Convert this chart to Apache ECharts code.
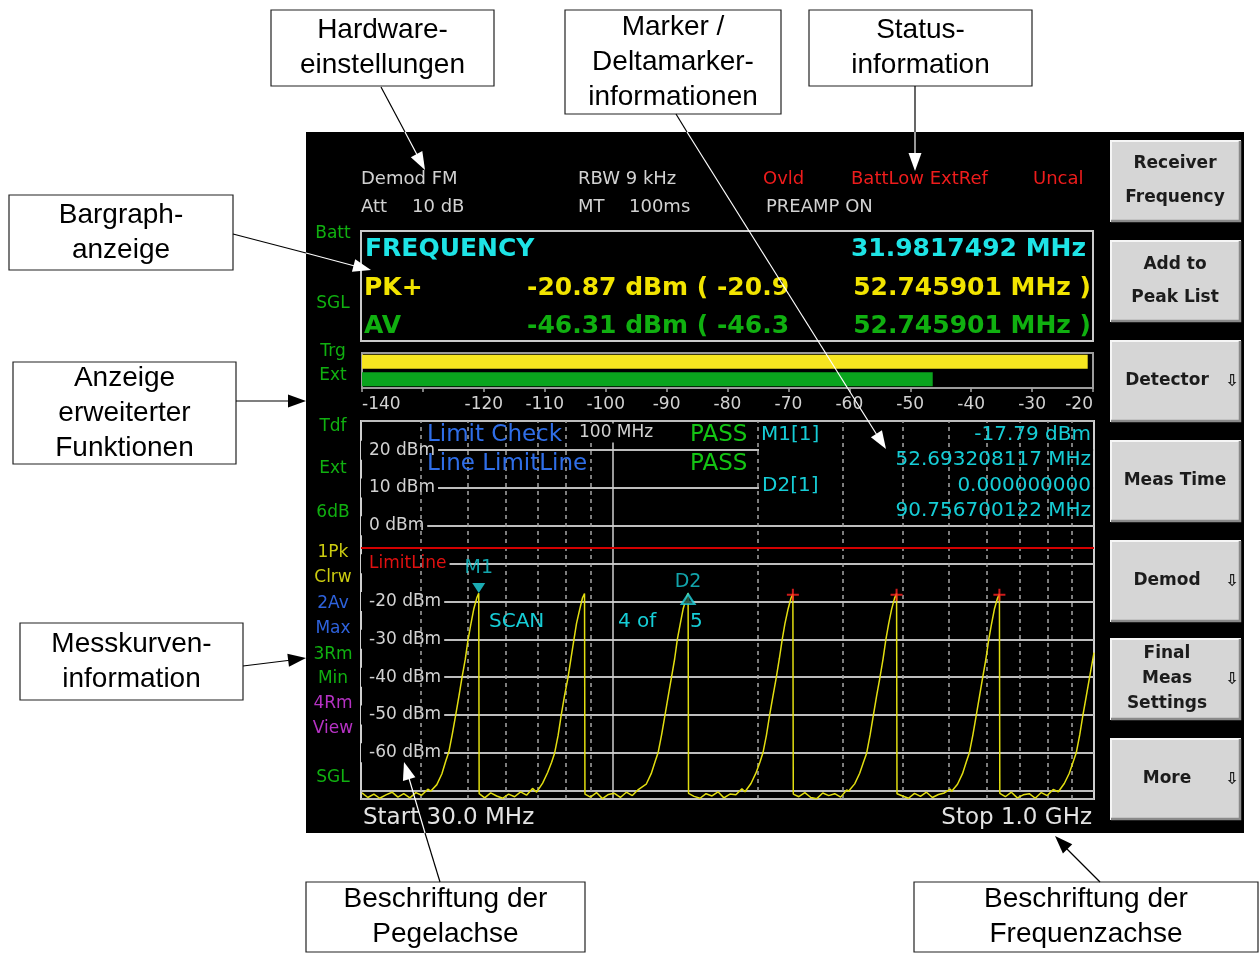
<!DOCTYPE html>
<html>
<head>
<meta charset="utf-8">
<title>Receiver Anzeige</title>
<script src="https://cdn.jsdelivr.net/npm/echarts@6.0.0/dist/echarts.min.js"></script>
<style>
html, body { margin: 0; padding: 0; background: #fff; }
#main { width: 1260px; height: 955px; }
</style>
</head>
<body>
<div id="main"></div>
<script>
// spectrum trace, frequency in MHz (log axis) and level in dBm
var traceFreq = [
  30.14, 31.0, 31.9, 32.8, 33.8, 34.8, 35.8, 36.8, 37.9, 39.0, 40.1, 41.3,
  41.91, 43.12, 44.16, 45.02, 45.66, 46.44, 47.15, 47.90, 48.65, 49.40, 50.07, 50.71, 51.45, 52.19, 52.69,
  52.80, 54.22, 55.79, 57.41, 59.08, 60.79, 62.55, 64.37, 66.23, 68.15,
  69.52, 71.53, 73.26, 74.67, 75.74, 77.03, 78.21, 79.45, 80.71, 81.95, 83.05, 84.12, 85.34, 86.57, 87.40,
  87.58, 89.93, 92.55, 95.23, 97.99, 100.83, 103.75, 106.77, 109.86, 113.04,
  114.10, 117.40, 120.24, 122.56, 124.31, 126.42, 128.36, 130.41, 132.46, 134.50, 136.31, 138.07, 140.06, 142.09, 143.45,
  143.74, 147.61, 151.90, 156.30, 160.84, 165.50, 170.29, 175.24, 180.32, 185.54,
  188.35, 193.80, 198.49, 202.32, 205.21, 208.69, 211.89, 215.27, 218.66, 222.02, 225.01, 227.92, 231.21, 234.55, 236.80,
  237.27, 243.67, 250.75, 258.02, 265.50, 273.20, 281.11, 289.27, 297.66, 306.28,
  309.33, 318.28, 325.98, 332.28, 337.02, 342.74, 347.99, 353.55, 359.11, 364.63, 369.53, 374.32, 379.72, 385.21, 388.90,
  389.68, 400.18, 411.81, 423.75, 436.03, 448.67, 461.66, 475.08, 488.85, 503.00,
  505.87, 520.50, 533.10, 543.40, 551.16, 560.51, 569.09, 578.19, 587.28, 596.31, 604.33, 612.15, 620.99, 629.96, 636.00,
  637.27, 654.44, 673.46, 692.99, 713.08, 733.75, 754.99, 776.94, 799.45, 822.60,
  843.1, 867.5, 888.5, 905.7, 918.6, 934.2, 948.5, 963.6, 978.8, 1000
];
var traceLevel = [
  -70.6, -71.8, -70.9, -72.0, -71.1, -70.4, -71.7, -70.8, -71.9, -70.5, -71.2, -69.6,
  -70.1, -68.4, -65.6, -62.1, -59.8, -55.0, -50.3, -45.2, -40.0, -35.3, -30.1, -26.2, -22.0, -19.1, -17.8,
  -70.8, -71.9, -70.6, -71.4, -72.0, -70.9, -71.6, -70.3, -71.2, -69.4,
  -70.4, -68.0, -65.2, -62.5, -60.1, -55.4, -49.9, -44.8, -40.3, -34.9, -30.2, -25.8, -22.3, -19.0, -17.9,
  -70.9, -71.7, -70.5, -72.1, -71.0, -70.7, -71.8, -70.4, -71.3, -69.7,
  -70.2, -68.3, -65.5, -62.2, -59.9, -55.1, -50.2, -45.1, -40.1, -35.2, -29.9, -26.1, -22.0, -19.3, -17.8,
  -70.7, -71.5, -72.0, -70.8, -71.4, -70.3, -71.9, -70.9, -71.1, -69.5,
  -70.3, -68.1, -65.3, -62.4, -60.0, -55.3, -50.0, -45.0, -40.2, -35.0, -30.1, -25.9, -22.2, -19.2, -18.0,
  -70.9, -71.6, -70.5, -71.8, -72.1, -70.6, -71.3, -70.8, -71.7, -69.8,
  -70.1, -68.2, -65.4, -62.3, -60.1, -55.2, -50.1, -44.9, -40.1, -35.1, -30.0, -26.0, -22.1, -19.1, -17.9,
  -70.8, -71.4, -72.0, -70.7, -71.5, -70.4, -71.8, -71.0, -70.6, -69.6,
  -70.2, -68.3, -65.5, -62.2, -59.9, -55.1, -50.2, -45.1, -40.0, -35.2, -30.1, -26.1, -22.0, -19.2, -18.0,
  -70.7, -71.6, -70.4, -71.9, -71.1, -70.8, -72.0, -70.5, -71.3, -69.7,
  -70.3, -68.1, -65.4, -62.3, -60.0, -55.2, -50.0, -45.1, -40.1, -33.5
];

var markerNames = ['M1', 'D2'];
var markerFreq = [52.69, 143.45];
var markerLevel = [-17.79, -17.8];
var peakFreq = [236.8, 388.9, 636.0];
var peakLevel = [-18.2, -18.2, -18.2];

var gridFreq = [40, 50, 60, 70, 80, 90, 200, 300, 400, 500, 600, 700, 800, 900];
var decadeFreq = [100];
var limitLevel = -5.8;
var levelMin = -72.2, levelMax = 27.7;
var freqStart = 30, freqStop = 1000;

// bargraph
var barNames = ['PK+', 'AV'];
var barValues = [-20.87, -46.31];
var barMin = -140, barMax = -20;

var INST = 'DejaVu Sans';
var ANNO = 'Liberation Sans';
var CYAN = '#1ee4e6', MCYAN = '#16cdd6', YEL = '#f2e400', GRN = '#10b010', RED = '#ee1c1c', GRAY = '#d2d2d2';

var myChart = echarts.init(document.getElementById('main'));

function txt(x, y, s, color, size, align, weight, bg, z) {
  return {
    type: 'text', x: x, y: y, z: z || 6,
    style: {
      text: s, fill: color,
      font: (weight || 'normal') + ' ' + size + 'px "' + INST + '"',
      align: align || 'left', textAlign: align || 'left',
      verticalAlign: 'middle', textVerticalAlign: 'middle',
      backgroundColor: bg, padding: bg ? [1, 2] : 0
    }
  };
}
function seg(x1, y1, x2, y2, color) {
  return { type: 'line', z: 20, shape: { x1: x1, y1: y1, x2: x2, y2: y2 }, style: { stroke: color, lineWidth: 1.2 } };
}
function head(x1, y1, x2, y2, color) {
  var dx = x2 - x1, dy = y2 - y1, L = Math.sqrt(dx * dx + dy * dy);
  var ux = dx / L, uy = dy / L, len = 18, w = 6.5;
  var bx = x2 - ux * len, by = y2 - uy * len;
  return { type: 'polygon', z: 20, shape: { points: [[x2, y2], [bx - uy * w, by + ux * w], [bx + uy * w, by - ux * w]] }, style: { fill: color } };
}
function box(x, y, w, h, s) {
  return [
    { type: 'rect', z: 19, shape: { x: x, y: y, width: w, height: h }, style: { fill: '#fff', stroke: '#222', lineWidth: 1.2 } },
    { type: 'text', z: 20, x: x + w / 2, y: y + h / 2, style: { text: s, fill: '#000', font: '28px "' + ANNO + '"', lineHeight: 35, align: 'center', textAlign: 'center', verticalAlign: 'middle', textVerticalAlign: 'middle' } }
  ];
}
function button(y, h, s, lh, arrow) {
  var x = 1110, w = 131, out = [];
  out.push({ type: 'rect', z: 2, shape: { x: x, y: y, width: w, height: h }, style: { fill: '#d6d6d6' } });
  out.push({ type: 'polyline', z: 3, shape: { points: [[x + 1, y + h], [x + 1, y + 1], [x + w, y + 1]] }, style: { stroke: '#f6f6f6', lineWidth: 2, fill: null } });
  out.push({ type: 'polyline', z: 3, shape: { points: [[x + 1, y + h - 1], [x + w - 1, y + h - 1], [x + w - 1, y + 1]] }, style: { stroke: '#8a8a8a', lineWidth: 2.5, fill: null } });
  out.push({ type: 'text', z: 4, x: arrow ? 1167 : 1175, y: y + h / 2, style: { text: s, fill: '#1c1c1c', font: 'bold 17px "' + INST + '"', lineHeight: lh, align: 'center', textAlign: 'center', verticalAlign: 'middle', textVerticalAlign: 'middle' } });
  if (arrow) out.push(txt(1232, y + h / 2 + 1, '⇩', '#1c1c1c', 16, 'center', 'bold', null, 4));
  return out;
}

var g = [];
// instrument panel
g.push({ type: 'rect', z: -1, shape: { x: 306, y: 132, width: 938, height: 701 }, style: { fill: '#000' } });

// header: hardware settings and status
g.push(txt(361, 179, 'Demod FM', GRAY, 18));
g.push(txt(361, 207, 'Att', GRAY, 18));
g.push(txt(412, 207, '10 dB', GRAY, 18));
g.push(txt(578, 179, 'RBW 9 kHz', GRAY, 18));
g.push(txt(578, 207, 'MT', GRAY, 18));
g.push(txt(629, 207, '100ms', GRAY, 18));
g.push(txt(763, 179, 'Ovld', RED, 18));
g.push(txt(851, 179, 'BattLow ExtRef', RED, 18));
g.push(txt(1033, 179, 'Uncal', RED, 18));
g.push(txt(766, 207, 'PREAMP ON', GRAY, 18));

// bargraph readout
g.push({ type: 'rect', z: 1, shape: { x: 361, y: 231, width: 732, height: 110 }, style: { fill: null, stroke: '#cacaca', lineWidth: 2 } });
g.push(txt(365, 249, 'FREQUENCY', CYAN, 25, 'left', 'bold'));
g.push(txt(1086, 249, '31.9817492 MHz', CYAN, 25, 'right', 'bold'));
g.push(txt(364, 288, 'PK+', YEL, 25, 'left', 'bold'));
g.push(txt(527, 288, '-20.87 dBm ( -20.9', YEL, 25, 'left', 'bold'));
g.push(txt(1091, 288, '52.745901 MHz )', YEL, 25, 'right', 'bold'));
g.push(txt(364, 326, 'AV', GRN, 25, 'left', 'bold'));
g.push(txt(527, 326, '-46.31 dBm ( -46.3', GRN, 25, 'left', 'bold'));
g.push(txt(1091, 326, '52.745901 MHz )', GRN, 25, 'right', 'bold'));

// side column
var side = [
  ['Batt', 234, GRN], ['SGL', 304, GRN], ['Trg', 352, GRN], ['Ext', 376, GRN],
  ['Tdf', 427, GRN], ['Ext', 469, GRN], ['6dB', 513, GRN],
  ['1Pk', 553, '#cccc10'], ['Clrw', 578, '#cccc10'], ['2Av', 604, '#2e62dc'], ['Max', 629, '#2e62dc'],
  ['3Rm', 655, GRN], ['Min', 679, GRN], ['4Rm', 704, '#b632c4'], ['View', 729, '#b632c4'], ['SGL', 778, GRN]
];
side.forEach(function (s) { g.push(txt(333, s[1], s[0], s[2], 17, 'center')); });

// limit check + marker info
g.push(txt(427, 435, 'Limit Check', '#2f6ee8', 23));
g.push(txt(427, 464, 'Line LimitLine', '#2f6ee8', 23));
g.push(txt(577, 433, '100 MHz', GRAY, 17, 'left', 'normal', '#000'));
g.push(txt(690, 435, 'PASS', '#14c414', 23));
g.push(txt(690, 464, 'PASS', '#14c414', 23));
g.push({ type: 'rect', z: 5, shape: { x: 759, y: 423, width: 334, height: 99 }, style: { fill: '#000' } });
g.push(txt(761, 435, 'M1[1]', MCYAN, 20));
g.push(txt(1091, 435, '-17.79 dBm', MCYAN, 20, 'right'));
g.push(txt(1091, 460, '52.693208117 MHz', MCYAN, 20, 'right'));
g.push(txt(762, 486, 'D2[1]', MCYAN, 20));
g.push(txt(1091, 486, '0.000000000', MCYAN, 20, 'right'));
g.push(txt(1091, 511, '90.756700122 MHz', MCYAN, 20, 'right'));
g.push(txt(487, 622, 'SCAN', MCYAN, 20, 'left', 'normal', '#000', 3));
g.push(txt(616, 622, '4 of', MCYAN, 20, 'left', 'normal', '#000', 3));
g.push(txt(690, 622, '5', MCYAN, 20, 'left', 'normal', null, 3));
g.push(txt(363, 818, 'Start 30.0 MHz', '#e2e2e2', 23));
g.push(txt(1092, 818, 'Stop 1.0 GHz', '#e2e2e2', 23, 'right'));

// softkeys
g = g.concat(button(140, 82, 'Receiver\nFrequency', 34, false));
g = g.concat(button(240, 82, 'Add to\nPeak List', 33, false));
g = g.concat(button(340, 82, 'Detector', 20, true));
g = g.concat(button(440, 82, 'Meas Time', 20, false));
g = g.concat(button(540, 82, 'Demod', 20, true));
g = g.concat(button(638, 82, 'Final\nMeas\nSettings', 25, true));
g = g.concat(button(738, 82, 'More', 20, true));

// callouts
g = g.concat(box(271, 10, 223, 76, 'Hardware-\neinstellungen'));
g = g.concat(box(565, 10, 216, 104, 'Marker /\nDeltamarker-\ninformationen'));
g = g.concat(box(809, 10, 223, 76, 'Status-\ninformation'));
g = g.concat(box(9, 195, 224, 75, 'Bargraph-\nanzeige'));
g = g.concat(box(13, 362, 223, 102, 'Anzeige\nerweiterter\nFunktionen'));
g = g.concat(box(20, 623, 223, 77, 'Messkurven-\ninformation'));
g = g.concat(box(306, 882, 279, 70, 'Beschriftung der\nPegelachse'));
g = g.concat(box(914, 882, 344, 70, 'Beschriftung der\nFrequenzachse'));

g.push(seg(381, 87, 405, 132, '#000'), seg(405, 132, 423, 166, '#fff'), head(381, 87, 425, 170, '#fff'));
g.push(seg(676, 114, 687, 132, '#000'), seg(687, 132, 882, 443, '#fff'), head(676, 114, 886, 449, '#fff'));
g.push(seg(915, 86, 915, 132, '#000'), seg(915, 132, 915, 166, '#fff'), head(915, 86, 915, 171, '#fff'));
g.push(seg(233, 234, 306, 253, '#000'), seg(306, 253, 366, 269, '#fff'), head(233, 234, 371, 270, '#fff'));
g.push(seg(236, 401, 300, 401, '#000'), head(236, 401, 306, 401, '#000'));
g.push(seg(243, 666, 300, 659, '#000'), head(243, 666, 306, 658, '#000'));
g.push(seg(440, 882, 425, 833, '#000'), seg(425, 833, 406, 768, '#fff'), head(440, 882, 404, 762, '#fff'));
g.push(seg(1100, 882, 1060, 842, '#000'), head(1100, 882, 1055, 836, '#000'));

var traceData = traceFreq.map(function (f, i) { return [f, traceLevel[i]]; });

var markerData = markerNames.map(function (n, i) {
  var down = i === 0;
  return {
    name: n, value: [markerFreq[i], markerLevel[i]],
    symbol: 'triangle', symbolRotate: down ? 180 : 0,
    symbolSize: [13, 10], symbolOffset: [0, down ? -5 : 6],
    itemStyle: down ? { color: '#22d6e0' } : { color: '#0b3e44', borderColor: '#22d6e0', borderWidth: 2 },
    label: { show: true, position: 'top', distance: down ? 6 : 2, formatter: '{b}', color: MCYAN, fontSize: 19, fontFamily: INST }
  };
});
var peakData = peakFreq.map(function (f, i) { return [f, peakLevel[i]]; });

var option = {
  backgroundColor: '#fff',
  animation: false,
  graphic: { elements: g },
  grid: [
    { left: 361, top: 421, width: 733, height: 378, show: true, backgroundColor: 'transparent', borderColor: '#cfcfcf', borderWidth: 2 },
    { left: 362, top: 353, width: 731, height: 35, show: true, backgroundColor: 'transparent', borderColor: '#9c9c9c', borderWidth: 2 }
  ],
  xAxis: [
    { type: 'log', logBase: 10, gridIndex: 0, min: freqStart, max: freqStop,
      axisLine: { show: false }, axisTick: { show: false }, axisLabel: { show: false }, splitLine: { show: false } },
    { type: 'value', gridIndex: 1, min: 0, max: barMax - barMin, interval: 10,
      axisLine: { show: false }, splitLine: { show: false },
      axisTick: { show: true, length: 4, lineStyle: { color: '#a8a8a8', width: 1.5 } },
      axisLabel: { color: GRAY, fontFamily: INST, fontSize: 17, margin: 8, alignMinLabel: 'left', alignMaxLabel: 'right',
        formatter: function (v) { var d = v + barMin; return d === -130 ? '' : String(d); } } }
  ],
  yAxis: [
    { type: 'value', gridIndex: 0, min: levelMin, max: levelMax, splitNumber: 10, z: 3,
      axisLine: { show: false }, axisTick: { show: false },
      splitLine: { show: true, lineStyle: { color: '#bdbdbd', width: 2 } },
      axisLabel: { inside: true, margin: 0, showMinLabel: false, showMaxLabel: false,
        color: GRAY, fontFamily: INST, fontSize: 17, backgroundColor: '#000', padding: [1, 3, 1, 8],
        rich: { lim: { color: '#e01010', fontFamily: INST, fontSize: 17 } },
        formatter: function (v) {
          if (v === -10) return '{lim|LimitLine}';
          if (v === -70) return '';
          return v + ' dBm';
        } } },
    { type: 'category', gridIndex: 1, data: barNames, inverse: true, show: false }
  ],
  series: [
    { // frequency grid lines
      name: 'grid', type: 'line', xAxisIndex: 0, yAxisIndex: 0, data: [], z: 1, silent: true,
      markLine: {
        silent: true, symbol: 'none', animation: false, label: { show: false },
        data: gridFreq.map(function (f) { return { xAxis: f, lineStyle: { color: '#a6a6a6', type: [4, 4], width: 1.5 } }; })
          .concat(decadeFreq.map(function (f) { return { xAxis: f, lineStyle: { color: '#cfcfcf', type: 'solid', width: 1.5 } }; }))
      }
    },
    {
      name: 'Trace 1', type: 'line', xAxisIndex: 0, yAxisIndex: 0, data: traceData, z: 5,
      showSymbol: false, symbol: 'none',
      lineStyle: { color: '#e2de10', width: 1.5 },
      markLine: {
        silent: true, symbol: 'none', animation: false, label: { show: false },
        data: [{ yAxis: limitLevel, lineStyle: { color: '#d40000', type: 'solid', width: 2 } }]
      }
    },
    { name: 'marker', type: 'scatter', xAxisIndex: 0, yAxisIndex: 0, z: 7, data: markerData },
    { name: 'peaks', type: 'scatter', xAxisIndex: 0, yAxisIndex: 0, z: 7,
      symbol: 'path://M5,0H7V5H12V7H7V12H5V7H0V5H5Z', symbolSize: 12,
      itemStyle: { color: '#ff2222' }, data: peakData },
    { name: 'bargraph', type: 'bar', xAxisIndex: 1, yAxisIndex: 1, barWidth: 14, z: 2,
      data: barValues.map(function (v, i) {
        return { value: v - barMin, itemStyle: { color: i === 0 ? '#f6e620' : '#0aa41e' } };
      }) }
  ]
};

myChart.setOption(option);
</script>
</body>
</html>
